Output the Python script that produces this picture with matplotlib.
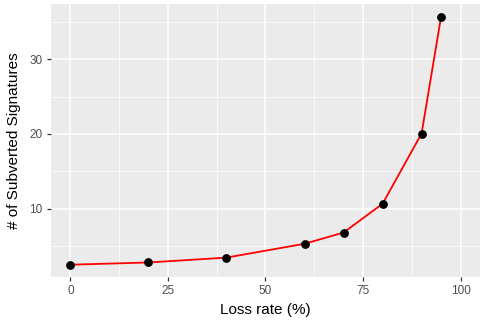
import matplotlib
matplotlib.use("Agg")
import matplotlib.pyplot as plt
from matplotlib.ticker import MultipleLocator

plt.rcParams['font.family'] = ['Liberation Sans', 'DejaVu Sans']

loss_rate = [0, 20, 40, 60, 70, 80, 90, 95]
subverted = [2.5, 2.8, 3.45, 5.3, 6.8, 10.65, 20.05, 35.7]

fig = plt.figure(figsize=(4.84, 3.2), dpi=100)
ax = fig.add_axes([0.105, 0.134, 0.887, 0.853])
ax.set_facecolor('#EBEBEB')

ax.plot(loss_rate, subverted, color='red', linewidth=1.3, zorder=3)
ax.scatter(loss_rate, subverted, color='black', s=28, zorder=4)

ax.set_xlim(-5, 105)
ax.set_ylim(0.84, 37.36)
ax.xaxis.set_major_locator(MultipleLocator(25))
ax.xaxis.set_minor_locator(MultipleLocator(12.5))
ax.yaxis.set_major_locator(MultipleLocator(10))
ax.set_yticks([10, 20, 30])
ax.set_yticks([5, 15, 25, 35], minor=True)

ax.grid(which='major', color='white', linewidth=1.1)
ax.grid(which='minor', color='white', linewidth=0.5)
ax.set_axisbelow(True)
for s in ax.spines.values():
    s.set_visible(False)

ax.tick_params(which='major', length=3, width=0.9, color='#333333',
               labelcolor='#4D4D4D', labelsize=8.5, pad=3)
ax.tick_params(which='minor', length=0)

ax.set_xlabel('Loss rate (%)', fontsize=11, labelpad=4)
ax.set_ylabel('# of Subverted Signatures', fontsize=11, labelpad=6)

fig.savefig('out.png', dpi=100)
